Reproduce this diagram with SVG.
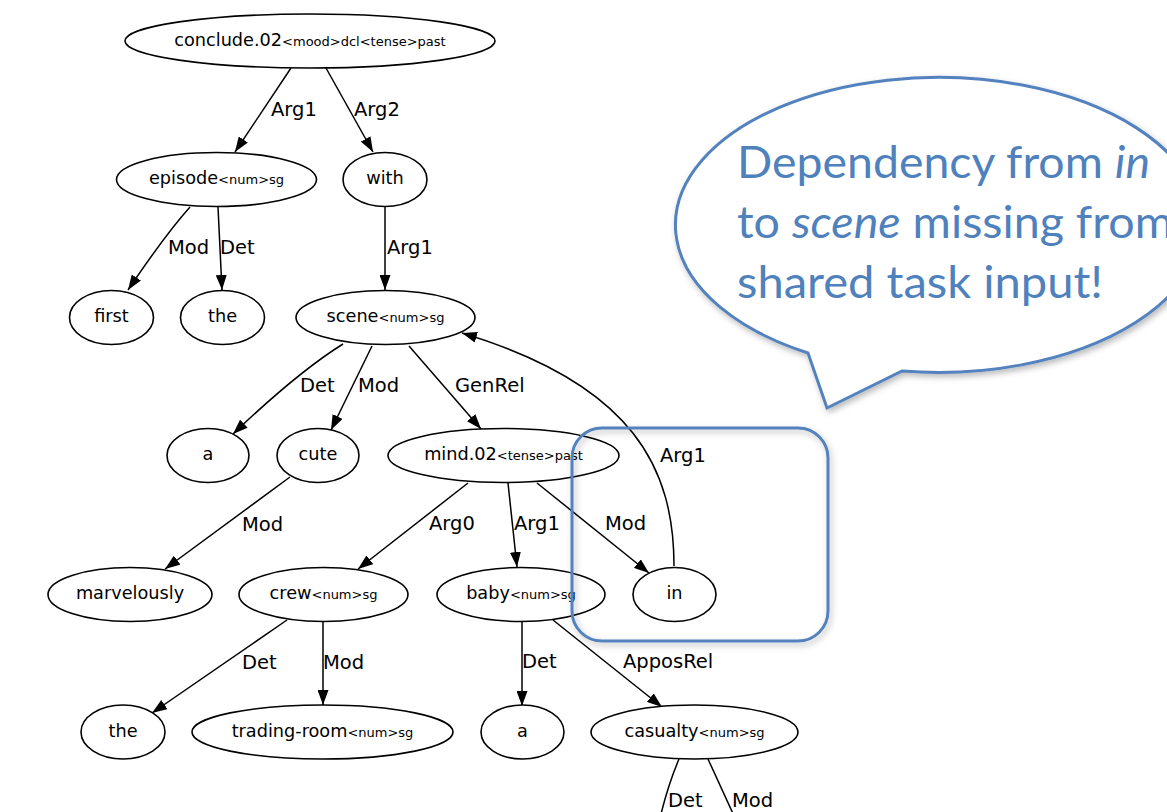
<svg xmlns="http://www.w3.org/2000/svg" width="1167" height="812" viewBox="0 0 1167 812">
  <style>
    .node ellipse { fill: #fff; stroke: #000; stroke-width: 1.6; }
    .node text { font-family: "DejaVu Sans", sans-serif; font-size: 17.7px; fill: #000; text-anchor: middle; }
    .node .sub { font-size: 13px; }
    .edges path { fill: none; stroke: #000; stroke-width: 1.5; }
    .edges path.arr { marker-end: url(#head); }
    .elabel { font-family: "DejaVu Sans", sans-serif; font-size: 19.5px; fill: #000; }
    .note { fill: none; stroke: #5282BE; stroke-width: 3; }
    .note-text { font-family: Lato, "Open Sans", sans-serif; font-size: 44px; fill: #4F81BD; }
  </style>
  <defs>
    <marker id="head" viewBox="0 0 15 11" refX="15" refY="5.5" markerWidth="15" markerHeight="11" markerUnits="userSpaceOnUse" orient="auto">
      <path d="M0,0 L15,5.5 L0,11 Z" fill="#000"/>
    </marker>
    <filter id="shadow" x="-10%" y="-10%" width="130%" height="130%">
      <feDropShadow dx="2" dy="3" stdDeviation="3" flood-color="#000" flood-opacity="0.28"/>
    </filter>
  </defs>
  <rect width="1167" height="812" fill="#fff"/>

  <!-- connectors -->
  <g id="edges" class="edges">
    <path class="arr" d="M291,68 L235,152"/>
    <path class="arr" d="M326,68 L373,152"/>
    <path class="arr" d="M190,207 Q165,235 128,290"/>
    <path class="arr" d="M218,207 L222,290"/>
    <path class="arr" d="M385,207 L385,290"/>
    <path class="arr" d="M343,344 Q298,372 233,434"/>
    <path class="arr" d="M372,346 L331,430"/>
    <path class="arr" d="M409,346 L481,429"/>
    <path class="arr" d="M674,566 C674,470 635,385 462,333"/>
    <path class="arr" d="M290,477 L165,569"/>
    <path class="arr" d="M468,483 L358,569"/>
    <path class="arr" d="M508,483 L517,567"/>
    <path class="arr" d="M537,483 L649,573"/>
    <path class="arr" d="M287,620 L152,713"/>
    <path class="arr" d="M323,621 L323,705"/>
    <path class="arr" d="M522,621 L522,706"/>
    <path class="arr" d="M553,620 L662,707"/>
    <path d="M679,759 Q668,785 660,818"/>
    <path d="M708,759 L735,818"/>
  </g>

  <!-- connector labels -->
  <g id="edge-labels">
    <text class="elabel" x="271" y="116">Arg1</text>
    <text class="elabel" x="354" y="116">Arg2</text>
    <text class="elabel" x="168" y="254">Mod</text>
    <text class="elabel" x="220" y="254">Det</text>
    <text class="elabel" x="387" y="254">Arg1</text>
    <text class="elabel" x="300" y="392">Det</text>
    <text class="elabel" x="358" y="392">Mod</text>
    <text class="elabel" x="455" y="392">GenRel</text>
    <text class="elabel" x="660" y="462">Arg1</text>
    <text class="elabel" x="242" y="531">Mod</text>
    <text class="elabel" x="429" y="530">Arg0</text>
    <text class="elabel" x="514" y="530">Arg1</text>
    <text class="elabel" x="605" y="530">Mod</text>
    <text class="elabel" x="242" y="669">Det</text>
    <text class="elabel" x="323" y="669">Mod</text>
    <text class="elabel" x="522" y="668">Det</text>
    <text class="elabel" x="623" y="668">ApposRel</text>
    <text class="elabel" x="668" y="807">Det</text>
    <text class="elabel" x="732" y="807">Mod</text>
  </g>

  <!-- nodes -->
  <g id="n-conclude" class="node"><ellipse cx="310" cy="41" rx="185" ry="27"/><text x="310" y="46">conclude.02<tspan class="sub">&lt;mood&gt;dcl&lt;tense&gt;past</tspan></text></g>
  <g id="n-episode" class="node"><ellipse cx="216.5" cy="179.5" rx="100" ry="27"/><text x="216.5" y="184">episode<tspan class="sub">&lt;num&gt;sg</tspan></text></g>
  <g id="n-with" class="node"><ellipse cx="385" cy="179.5" rx="42" ry="27"/><text x="385" y="184">with</text></g>
  <g id="n-first" class="node"><ellipse cx="111.5" cy="317.5" rx="42" ry="27"/><text x="111.5" y="322">first</text></g>
  <g id="n-the1" class="node"><ellipse cx="222.5" cy="317.5" rx="42" ry="27"/><text x="222.5" y="322">the</text></g>
  <g id="n-scene" class="node"><ellipse cx="385.5" cy="317.5" rx="89.5" ry="27"/><text x="385.5" y="322">scene<tspan class="sub">&lt;num&gt;sg</tspan></text></g>
  <g id="n-a1" class="node"><ellipse cx="208" cy="455.5" rx="41" ry="27"/><text x="208" y="460">a</text></g>
  <g id="n-cute" class="node"><ellipse cx="318" cy="455.5" rx="41" ry="27"/><text x="318" y="460">cute</text></g>
  <g id="n-mind" class="node"><ellipse cx="503.5" cy="455.5" rx="115.5" ry="27"/><text x="503.5" y="460">mind.02<tspan class="sub">&lt;tense&gt;past</tspan></text></g>
  <g id="n-marvelously" class="node"><ellipse cx="130" cy="594.5" rx="82" ry="27"/><text x="130" y="599">marvelously</text></g>
  <g id="n-crew" class="node"><ellipse cx="323.5" cy="594.5" rx="84.5" ry="27"/><text x="323.5" y="599">crew<tspan class="sub">&lt;num&gt;sg</tspan></text></g>
  <g id="n-baby" class="node"><ellipse cx="521" cy="594.5" rx="84" ry="27"/><text x="521" y="599">baby<tspan class="sub">&lt;num&gt;sg</tspan></text></g>
  <g id="n-in" class="node"><ellipse cx="674.5" cy="594.5" rx="41.5" ry="27"/><text x="674.5" y="599">in</text></g>
  <g id="n-the2" class="node"><ellipse cx="123" cy="732" rx="42" ry="27"/><text x="123" y="737">the</text></g>
  <g id="n-trading-room" class="node"><ellipse cx="322.5" cy="732" rx="130.5" ry="27"/><text x="322.5" y="737">trading-room<tspan class="sub">&lt;num&gt;sg</tspan></text></g>
  <g id="n-a2" class="node"><ellipse cx="522.5" cy="732" rx="41.5" ry="27"/><text x="522.5" y="737">a</text></g>
  <g id="n-casualty" class="node"><ellipse cx="694.5" cy="732" rx="103.5" ry="27"/><text x="694.5" y="737">casualty<tspan class="sub">&lt;num&gt;sg</tspan></text></g>

  <!-- highlight box round the "in" node -->
  <rect id="highlight" class="note" x="572" y="428" width="256" height="213" rx="30" ry="30" filter="url(#shadow)"/>

  <!-- speech bubble -->
  <g id="callout">
    <path class="note" style="fill:#fff" d="M808,353 L827,408 L902,371 A263,147.5 0 1 0 808,353 Z" filter="url(#shadow)"/>
    <text class="note-text" x="737" y="178" textLength="413" lengthAdjust="spacingAndGlyphs">Dependency from <tspan font-style="italic">in</tspan></text>
    <text class="note-text" x="737" y="238" textLength="436" lengthAdjust="spacingAndGlyphs">to <tspan font-style="italic">scene</tspan> missing from</text>
    <text class="note-text" x="737" y="298" textLength="366" lengthAdjust="spacingAndGlyphs">shared task input!</text>
  </g>
</svg>
